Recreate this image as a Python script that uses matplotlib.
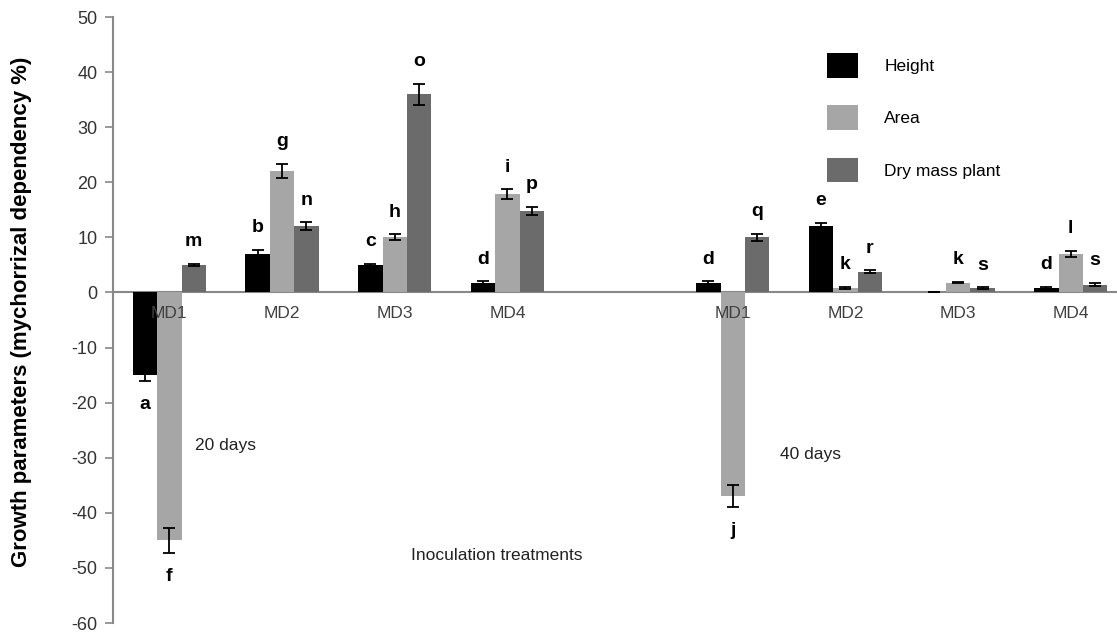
import numpy as np
import matplotlib.pyplot as plt
from matplotlib.patches import Patch

plt.rcParams['font.family'] = ['Liberation Sans', 'DejaVu Sans']
plt.rcParams['axes.unicode_minus'] = False

# groups: 20 days (MD1..MD4) then 40 days (MD1..MD4)
treatments = ['MD1', 'MD2', 'MD3', 'MD4', 'MD1', 'MD2', 'MD3', 'MD4']
slots = [0, 1, 2, 3, 5, 6, 7, 8]   # slot 4 left empty between the two periods

height = [-15, 7, 5, 1.8, 1.8, 12, 0, 0.8]
height_err = [1.0, 0.7, 0.2, 0.2, 0.2, 0.6, 0, 0.2]
height_lbl = ['a', 'b', 'c', 'd', 'd', 'e', '', 'd']

area = [-45, 22, 10, 17.8, -37, 0.8, 1.8, 7]
area_err = [2.3, 1.3, 0.55, 0.9, 2.0, 0.2, 0.1, 0.5]
area_lbl = ['f', 'g', 'h', 'i', 'j', 'k', 'k', 'l']

dry = [5, 12, 36, 14.8, 10, 3.8, 0.8, 1.4]
dry_err = [0.2, 0.7, 1.9, 0.8, 0.6, 0.2, 0.1, 0.3]
dry_lbl = ['m', 'n', 'o', 'p', 'q', 'r', 's', 's']

series = [('Height', height, height_err, height_lbl, '#000000'),
          ('Area', area, area_err, area_lbl, '#a6a6a6'),
          ('Dry mass plant', dry, dry_err, dry_lbl, '#6b6b6b')]

fig = plt.figure(figsize=(11.17, 6.33), dpi=100)
ax = fig.add_axes([113/1117, 10/633, 1004/1117, 606/633])

w = 0.2165
x = np.array(slots, dtype=float)
for i, (name, vals, errs, lbls, col) in enumerate(series):
    xi = x + (i - 1) * w
    ax.bar(xi, vals, w, color=col, zorder=3)
    ax.errorbar(xi, vals, yerr=errs, fmt='none', ecolor='black',
                elinewidth=1.3, capsize=4, capthick=1.3, zorder=4)
    for xx, v, e, l in zip(xi, vals, errs, lbls):
        if not l:
            continue
        if v >= 0:
            ax.annotate(l, (xx, v + e), xytext=(0, 16), textcoords='offset points',
                        ha='center', va='center', fontsize=14, fontweight='bold')
        else:
            ax.annotate(l, (xx, v - e), xytext=(0, -17), textcoords='offset points',
                        ha='center', va='center', fontsize=14, fontweight='bold')

for xx, t in zip(x, treatments):
    ax.text(xx, -3.9, t, ha='center', va='center', fontsize=12.5,
            color='#404040', zorder=5)

ax.text(0.23, -27.8, '20 days', ha='left', va='center', fontsize=12.5, color='#222222')
ax.text(5.42, -29.4, '40 days', ha='left', va='center', fontsize=12.5, color='#222222')
ax.text(2.91, -47.8, 'Inoculation treatments', ha='center', va='center',
        fontsize=12.5, color='#222222')

ax.set_xlim(-0.5, 8.41)
ax.set_ylim(-60, 50)
ax.set_yticks(np.arange(-60, 51, 10))
ax.set_xticks([])
ax.tick_params(axis='y', direction='out', length=6, width=1.2, color='#888888',
               labelsize=13, labelcolor='#333333', pad=5)
for s in ['top', 'right']:
    ax.spines[s].set_visible(False)
ax.spines['bottom'].set_position(('data', 0))
ax.spines['bottom'].set_color('#888888')
ax.spines['bottom'].set_linewidth(1.5)
ax.spines['left'].set_color('#888888')
ax.spines['left'].set_linewidth(1.5)

fig.text(22/1117, 1 - 312/633, 'Growth parameters (mychorrizal dependency %)',
         rotation=90, ha='center', va='center', fontsize=16, fontweight='bold')

handles = [Patch(facecolor=c, edgecolor='none', label=n) for n, _, _, _, c in series]
ax.legend(handles=handles, loc='upper left', bbox_to_anchor=(827/1117, 1 - 53/633),
          bbox_transform=fig.transFigure, frameon=False, fontsize=12.5,
          handlelength=1.8, handleheight=1.8, labelspacing=1.6,
          handletextpad=1.5, borderpad=0, borderaxespad=0)

fig.savefig('out.png', dpi=100)
